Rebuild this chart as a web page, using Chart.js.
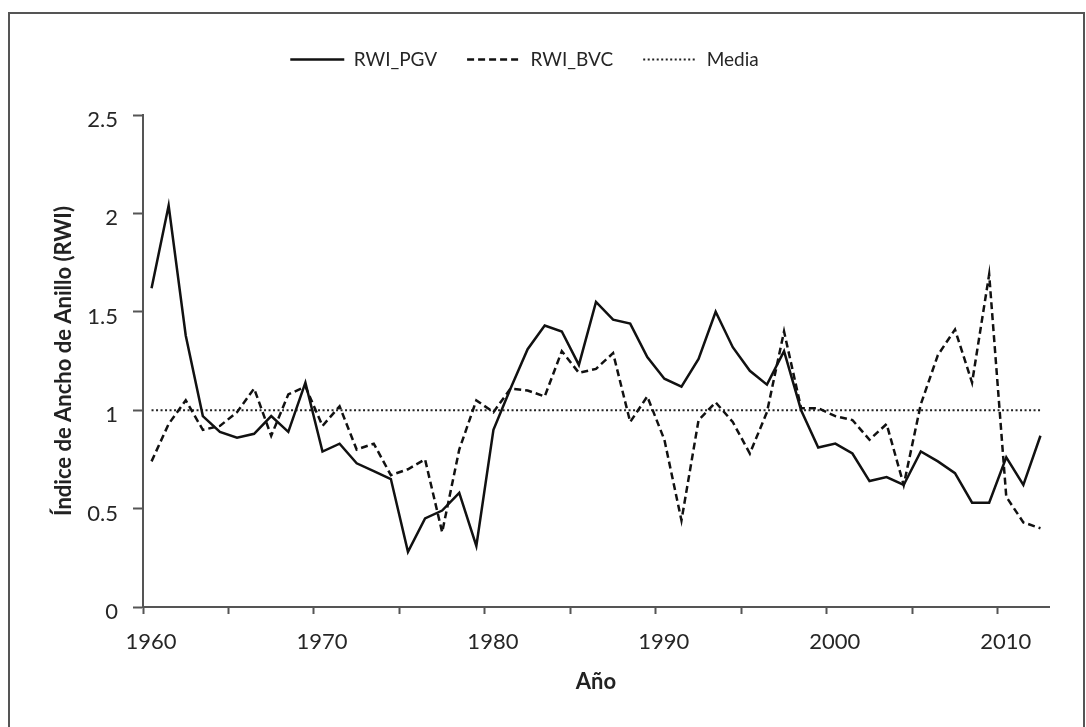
<!DOCTYPE html>
<html lang="es">
<head>
<meta charset="utf-8">
<title>Índice de Ancho de Anillo</title>
<script src="https://cdn.jsdelivr.net/npm/chart.js@4.4.1/dist/chart.umd.min.js"></script>
<style>
  html, body { margin: 0; padding: 0; background: #fff; }
  #wrap { position: relative; width: 1086px; height: 727px; overflow: hidden; }
  #frame {
    position: absolute; left: 8px; top: 12px; width: 1077px; height: 740px;
    border: 2px solid #555; border-bottom: none; box-sizing: border-box;
  }
  #chartBox { position: absolute; left: 0; top: 0; width: 1086px; height: 727px; }
</style>
</head>
<body>
<div id="wrap">
  <div id="frame"></div>
  <div id="chartBox"><canvas id="rwiChart"></canvas></div>
</div>
<script>
// Years and ring width indices
const years = [
  1960, 1961, 1962, 1963, 1964, 1965, 1966, 1967, 1968, 1969,
  1970, 1971, 1972, 1973, 1974, 1975, 1976, 1977, 1978, 1979,
  1980, 1981, 1982, 1983, 1984, 1985, 1986, 1987, 1988, 1989,
  1990, 1991, 1992, 1993, 1994, 1995, 1996, 1997, 1998, 1999,
  2000, 2001, 2002, 2003, 2004, 2005, 2006, 2007, 2008, 2009,
  2010, 2011, 2012
];
const rwiPGV = [
  1.62, 2.04, 1.38, 0.97, 0.89, 0.86, 0.88, 0.97, 0.89, 1.14,
  0.79, 0.83, 0.73, 0.69, 0.65, 0.28, 0.45, 0.49, 0.58, 0.31,
  0.90, 1.11, 1.31, 1.43, 1.40, 1.23, 1.55, 1.46, 1.44, 1.27,
  1.16, 1.12, 1.26, 1.50, 1.32, 1.20, 1.13, 1.30, 1.00, 0.81,
  0.83, 0.78, 0.64, 0.66, 0.62, 0.79, 0.74, 0.68, 0.53, 0.53,
  0.76, 0.62, 0.87
];
const rwiBVC = [
  0.74, 0.93, 1.05, 0.90, 0.92, 0.99, 1.11, 0.87, 1.08, 1.12,
  0.92, 1.02, 0.80, 0.83, 0.67, 0.70, 0.75, 0.38, 0.80, 1.05,
  0.99, 1.11, 1.10, 1.07, 1.30, 1.19, 1.21, 1.29, 0.94, 1.07,
  0.85, 0.44, 0.95, 1.04, 0.94, 0.78, 0.99, 1.40, 1.01, 1.01,
  0.97, 0.95, 0.85, 0.93, 0.62, 1.03, 1.28, 1.41, 1.14, 1.69,
  0.56, 0.43, 0.40
];
const mediaValue = 1;

// Axis ticks
const xTickMarks = [1960, 1965, 1970, 1975, 1980, 1985, 1990, 1995, 2000, 2005, 2010];
const xTickLabels = [1960, 1970, 1980, 1990, 2000, 2010];
const yTickValues = [0, 0.5, 1, 1.5, 2, 2.5];

// points sit in the middle of each year (date axis style)
function toPoints(values) {
  return values.map((v, i) => ({ x: years[i] + 0.5, y: v }));
}

// Legend sits well above the plot, so give it extra room underneath
const legendGap = {
  id: 'legendGap',
  beforeLayout(chart) {
    const lg = chart.legend;
    if (!lg || lg._gapPatched) return;
    const fit = lg.fit;
    lg.fit = function() {
      fit.call(this);
      this.height += 36;
    };
    lg._gapPatched = true;
  }
};

Chart.defaults.font.family = 'Lato, "Open Sans", sans-serif';
Chart.defaults.color = '#262626';

const axisColor = '#555';

new Chart(document.getElementById('rwiChart'), {
  type: 'line',
  data: {
    datasets: [
      {
        label: 'RWI_PGV',
        data: toPoints(rwiPGV),
        borderColor: '#111',
        borderWidth: 2.5,
        pointRadius: 0,
        tension: 0
      },
      {
        label: 'RWI_BVC',
        data: toPoints(rwiBVC),
        borderColor: '#111',
        borderWidth: 2.5,
        borderDash: [7, 4],
        pointRadius: 0,
        tension: 0
      },
      {
        label: 'Media',
        data: toPoints(years.map(() => mediaValue)),
        borderColor: '#222',
        borderWidth: 2,
        borderDash: [2, 2.5],
        pointRadius: 0,
        tension: 0
      }
    ]
  },
  options: {
    responsive: true,
    maintainAspectRatio: false,
    animation: false,
    layout: {
      padding: { top: 20, right: 37, bottom: 0, left: 0 }
    },
    scales: {
      x: {
        type: 'linear',
        min: 1960,
        max: 2013,
        afterFit: scale => { scale.height = 120; },
        afterBuildTicks: axis => { axis.ticks = xTickMarks.map(v => ({ value: v })); },
        ticks: {
          padding: 15,
          labelOffset: 8,
          maxRotation: 0,
          autoSkip: false,
          font: { size: 22 },
          callback: value => xTickLabels.includes(value) ? String(value) : ''
        },
        grid: {
          drawOnChartArea: false,
          tickLength: 7,
          tickWidth: 2,
          tickColor: axisColor
        },
        border: { color: axisColor, width: 2 },
        title: {
          display: true,
          text: 'Año',
          font: { size: 22, weight: 'bold' },
          color: '#222',
          padding: { top: 0, bottom: 32 }
        }
      },
      y: {
        min: 0,
        max: 2.5,
        afterFit: scale => { scale.width = 143; },
        afterBuildTicks: axis => { axis.ticks = yTickValues.map(v => ({ value: v })); },
        ticks: {
          padding: 15,
          labelOffset: 5,
          font: { size: 22 },
          callback: value => String(value)
        },
        grid: {
          drawOnChartArea: false,
          tickLength: 10,
          tickWidth: 2,
          tickColor: axisColor
        },
        border: { color: axisColor, width: 2 },
        title: {
          display: true,
          text: 'Índice de Ancho de Anillo (RWI)',
          font: { size: 22, weight: 'bold' },
          color: '#222',
          padding: { top: 51, bottom: 0 }
        }
      }
    },
    plugins: {
      legend: {
        position: 'top',
        labels: {
          usePointStyle: true,
          pointStyleWidth: 54,
          padding: 30,
          color: '#262626',
          font: { size: 19 },
          // legend samples copy each dataset's line style
          generateLabels: chart => chart.data.datasets.map((ds, i) => ({
            text: ds.label,
            datasetIndex: i,
            hidden: false,
            pointStyle: 'line',
            strokeStyle: ds.borderColor,
            fillStyle: ds.borderColor,
            lineWidth: ds.borderWidth,
            lineDash: ds.borderDash || [],
            fontColor: '#262626'
          }))
        }
      },
      tooltip: { enabled: false }
    }
  },
  plugins: [legendGap]
});
</script>
</body>
</html>
